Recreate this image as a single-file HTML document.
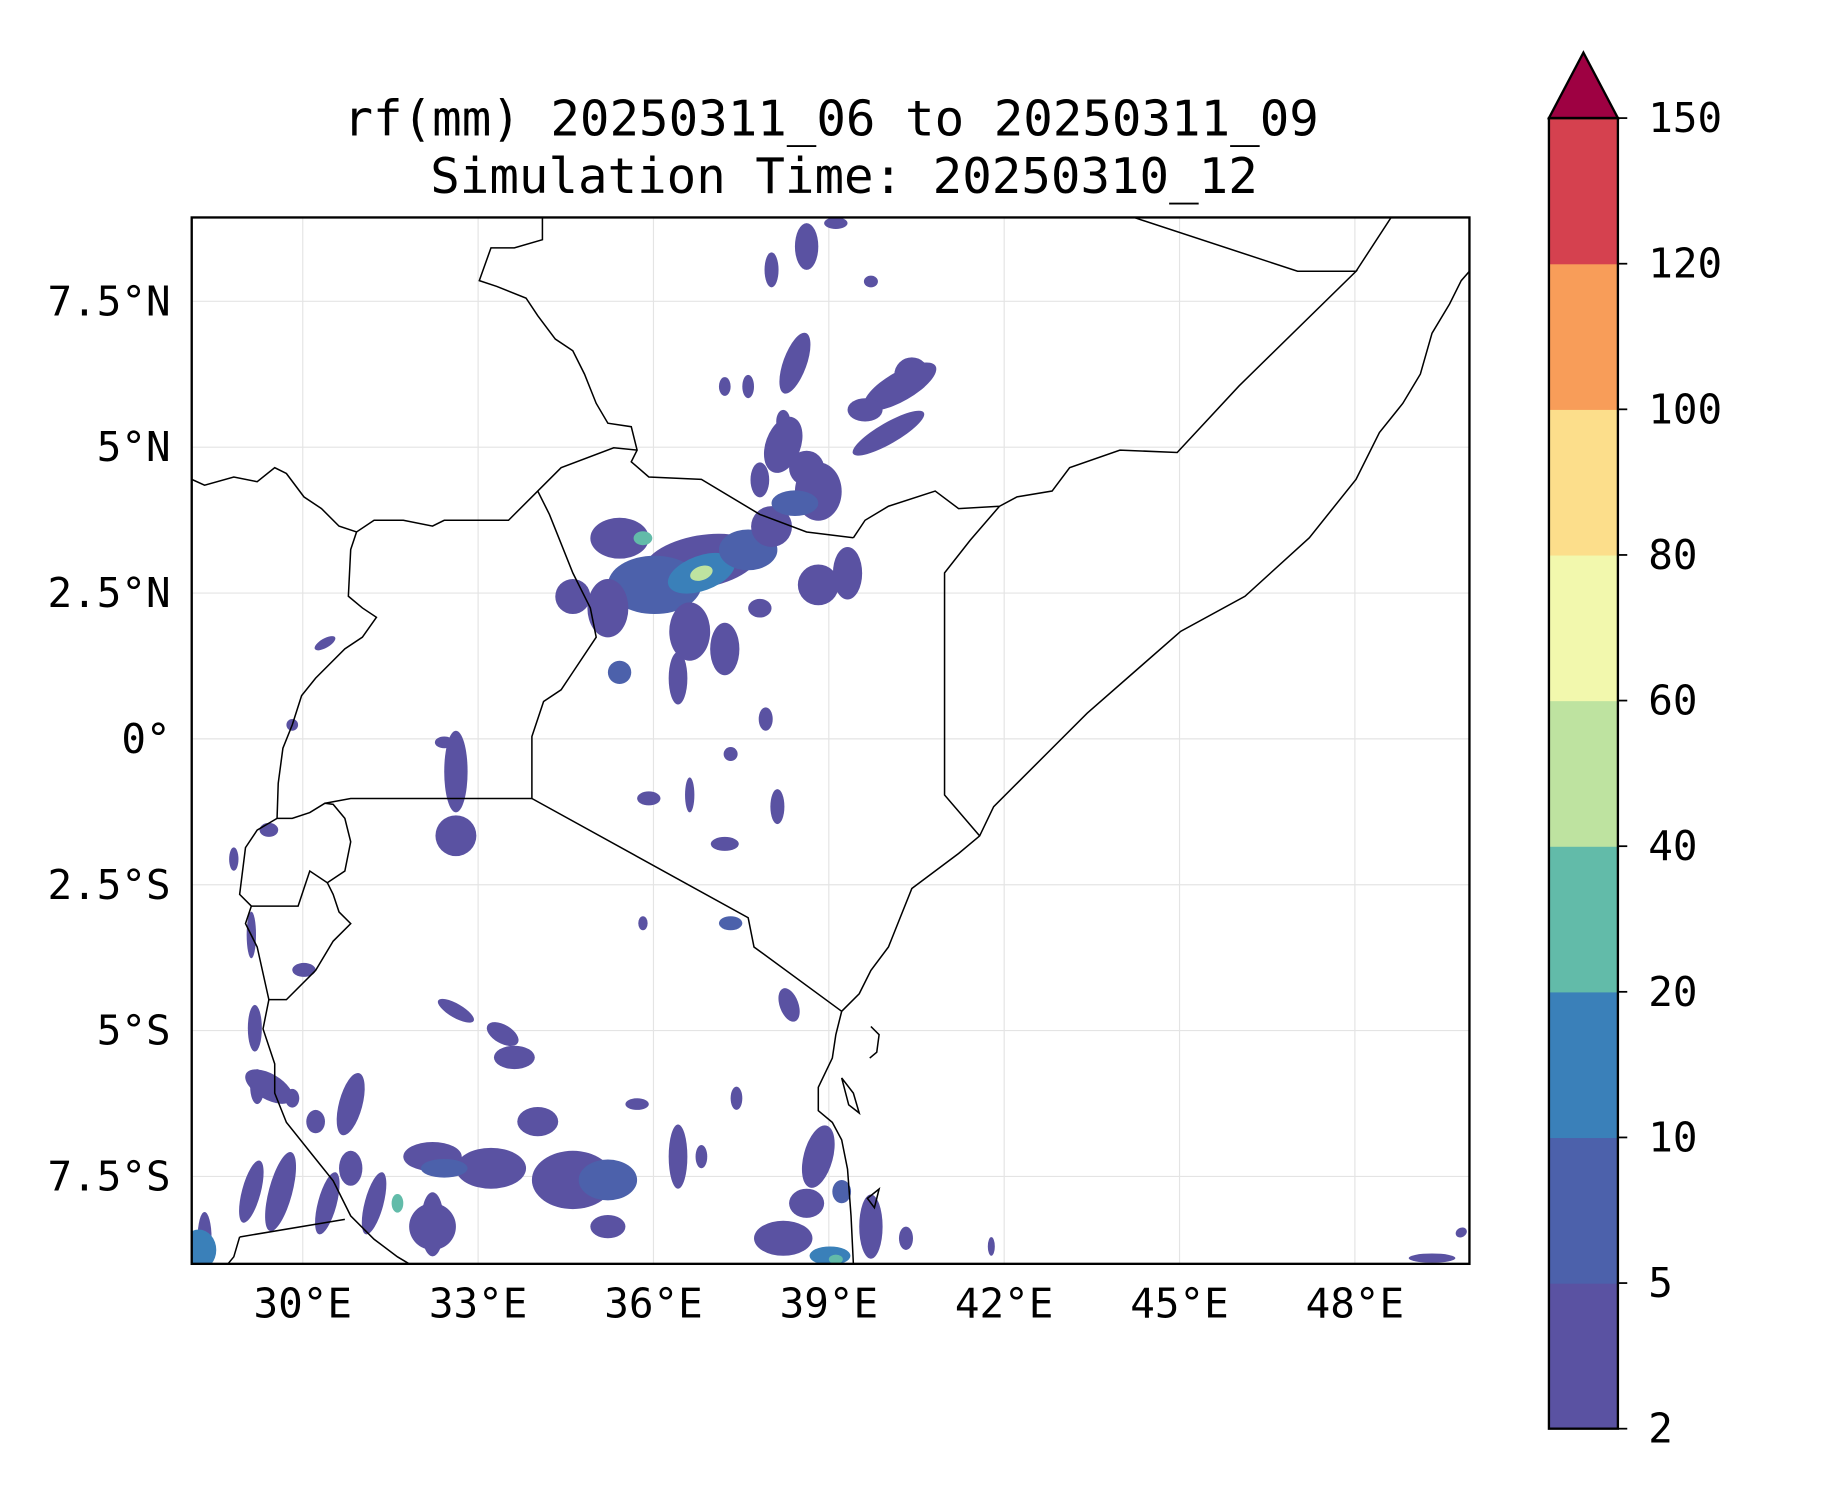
<!DOCTYPE html>
<html><head><meta charset="utf-8"><style>
html,body{margin:0;padding:0;background:#fff;}
svg{display:block;}
text{font-family:"DejaVu Sans Mono","Liberation Mono",monospace;fill:#000;}
</style></head><body>
<svg id="fig" width="1833" height="1500" viewBox="0 0 1568 1283" preserveAspectRatio="none" xmlns="http://www.w3.org/2000/svg">
<rect width="1568" height="1283" fill="#fff"/>
<text x="711" y="116" font-size="42" text-anchor="middle">rf(mm) 20250311_06 to 20250311_09</text>
<text x="722" y="165" font-size="42" text-anchor="middle">Simulation Time: 20250310_12</text>
<defs><clipPath id="mapclip"><rect x="164" y="186" width="1093" height="895"/></clipPath></defs>
<g id="grid"></g>
<g id="rain" clip-path="url(#mapclip)"></g>
<g clip-path="url(#mapclip)" fill="none" stroke="#000" stroke-width="1.3">
<path d="M464,186 L464,205 L440,212 L420,212 L410,240 L425,245 L450,255 L460,270 L475,290 L490,300 L500,320 L510,345 L520,362 L540,365 L545,385 L540,395 L555,408 L600,410 L650,440 L690,455 L730,460"/>
<path d="M730,460 L740,445 L760,433 L800,420 L820,435 L855,433 L870,425 L900,420 L915,400 L958,385 L1007,387 L1060,330 L1160,232 L1110,232 L970,186"/>
<path d="M1160,232 L1190,186"/>
<path d="M855,433 L830,462 L808,490 L808,680 L838,715"/>
<path d="M164,410 L175,415 L200,408 L220,412 L235,400 L245,405 L260,425 L275,435 L290,450 L305,455 L320,445 L345,445 L370,450 L380,445 L435,445 L460,420 L480,400 L525,383 L545,385"/>
<path d="M460,420 L470,440 L478,460 L490,490 L505,520 L510,545 L490,575 L480,590 L465,600 L455,630 L455,683"/>
<path d="M455,683 L300,683 L278,687"/>
<path d="M455,683 L640,785 L645,810 L720,865"/>
<path d="M305,455 L300,470 L298,510 L310,520 L322,528 L310,545 L295,555 L270,580 L258,595 L250,620 L242,640 L238,670 L237,700"/>
<path d="M237,700 L220,710 L210,725 L205,765 L215,775 L240,775 L255,775 L260,760 L265,745 L280,755 L295,745 L300,720 L295,700 L285,688 L278,687 L265,695 L250,700 L237,700"/>
<path d="M215,775 L210,790 L220,810 L230,855 L245,855 L270,830 L285,805 L300,790 L290,780 L285,765 L280,755"/>
<path d="M230,855 L225,880 L235,910 L235,935 L245,960 L265,985 L285,1010 L300,1040 L320,1060 L340,1075 L350,1081"/>
<path d="M205,1058 L295,1043"/>
<path d="M205,1058 L200,1075 L195,1081"/>
<path d="M1257,232 L1250,240 L1240,260 L1225,285 L1215,320 L1200,345 L1180,370 L1160,410 L1120,460 L1065,510 L1010,540 L970,575 L930,610 L900,640 L870,670 L850,690 L838,715 L820,730 L800,745 L780,760 L770,785 L760,810 L745,830 L735,850 L720,865 L715,885 L712,905 L700,930 L700,950 L712,960 L720,975 L725,1000 L728,1040 L730,1081"/>
<path d="M745,878 L752,885 L750,900 L744,905"/>
<path d="M720,922 L730,935 L735,952 L726,945 Z"/>
<path d="M742,1025 L752,1017 L748,1033 Z"/>
</g>
<rect x="164" y="186" width="1093" height="895" fill="none" stroke="#000" stroke-width="2"/>
<g id="xt"></g>
<g id="yt"></g>
<g id="cbar"></g>
</svg>
<script>
const NS='http://www.w3.org/2000/svg';
// Map axis data
const lonTicks=[30,33,36,39,42,45,48];
const lonLabels=['30°E','33°E','36°E','39°E','42°E','45°E','48°E'];
const latTicks=[7.5,5,2.5,0,-2.5,-5,-7.5];
const latLabels=['7.5°N','5°N','2.5°N','0°','2.5°S','5°S','7.5°S'];
// Colorbar data
const levels=[2,5,10,20,40,60,80,100,120,150];
const levelColors=['#5a52a2','#4c61ab','#3a80b9','#62bba9','#bee3a0','#f2f8ad','#fcde8b','#f89d59','#d5414f'];
const extendColor='#9e0142';
// Rain cells: lon, lat, radius-lon(deg), radius-lat(deg), level index, rotation(deg)
const cellLon=[35.42,36.82,36.02,36.82,36.82,37.62,35.22,34.62,36.62,37.22,36.42,35.42,38.02,38.82,38.42,38.82,39.32,35.82,37.82,38.22,38.62,38.42,38.02,40.22,40.02,40.42,39.62,37.62,38.62,39.72,37.22,39.12,37.82,38.22,32.62,32.62,32.42,30.38,29.82,37.92,37.32,35.92,38.12,37.22,36.62,37.32,29.12,29.18,30.02,29.42,28.82,35.82,38.32,29.42,33.42,32.62,33.62,30.82,29.22,29.82,30.22,32.22,33.22,32.42,34.62,35.22,34.02,35.22,32.22,32.22,31.62,31.22,30.42,29.62,29.12,28.32,28.22,30.82,36.42,36.82,35.72,37.42,38.82,38.62,38.22,39.02,39.12,39.72,39.22,40.32,49.82,49.32,41.78,34.78];
const cellLat=[3.44,3.04,2.64,2.84,2.84,3.24,2.24,2.44,1.84,1.54,1.04,1.14,3.64,4.24,4.04,2.64,2.84,3.44,2.24,5.04,4.64,6.44,8.04,6.04,5.24,6.24,5.64,6.04,8.44,7.84,6.04,8.84,4.44,5.44,-0.56,-1.66,-0.06,1.64,0.24,0.34,-0.26,-1.02,-1.16,-1.80,-0.96,-3.16,-3.36,-4.96,-3.96,-1.56,-2.06,-3.16,-4.56,-5.96,-5.06,-4.66,-5.46,-6.26,-5.96,-6.16,-6.56,-7.16,-7.36,-7.36,-7.56,-7.56,-6.56,-8.36,-8.36,-8.32,-7.96,-7.96,-7.96,-7.76,-7.76,-8.56,-8.76,-7.36,-7.16,-7.16,-6.26,-6.16,-7.16,-7.96,-8.56,-8.86,-8.92,-8.36,-7.76,-8.56,-8.46,-8.90,-8.70];
const cellRx=[0.5,1.0,0.8,0.6,0.2,0.5,0.35,0.3,0.35,0.25,0.16,0.2,0.35,0.4,0.4,0.35,0.25,0.16,0.2,0.3,0.3,0.2,0.12,0.7,0.7,0.3,0.3,0.1,0.2,0.12,0.1,0.2,0.16,0.12,0.2,0.35,0.16,0.2,0.1,0.12,0.12,0.2,0.12,0.24,0.08,0.2,0.08,0.12,0.2,0.16,0.08,0.08,0.16,0.45,0.3,0.35,0.35,0.2,0.12,0.12,0.16,0.5,0.6,0.4,0.7,0.5,0.35,0.3,0.4,0.2,0.1,0.16,0.16,0.2,0.16,0.12,0.3,0.2,0.16,0.1,0.2,0.1,0.25,0.3,0.5,0.35,0.12,0.2,0.16,0.12,0.1,0.4,0.06,0.3];
const cellRy=[0.35,0.45,0.5,0.3,0.12,0.35,0.5,0.3,0.5,0.45,0.45,0.2,0.35,0.5,0.22,0.35,0.45,0.12,0.16,0.5,0.3,0.55,0.3,0.25,0.18,0.3,0.2,0.2,0.4,0.1,0.16,0.1,0.3,0.2,0.7,0.35,0.1,0.08,0.1,0.2,0.12,0.12,0.3,0.12,0.3,0.12,0.4,0.4,0.12,0.12,0.2,0.12,0.3,0.22,0.16,0.12,0.2,0.55,0.3,0.16,0.2,0.25,0.35,0.16,0.5,0.35,0.25,0.2,0.4,0.55,0.16,0.55,0.55,0.7,0.55,0.45,0.35,0.3,0.55,0.2,0.1,0.2,0.55,0.25,0.3,0.16,0.08,0.55,0.2,0.2,0.08,0.08,0.16,0.3];
const cellLvl=[0,0,1,2,4,1,0,0,0,0,0,1,0,0,1,0,0,3,0,0,0,0,0,0,0,0,0,0,0,0,0,0,0,0,0,0,0,0,0,0,0,0,0,0,0,1,0,0,0,0,0,0,0,0,0,0,0,0,0,0,0,0,0,1,0,1,0,0,0,0,3,0,0,0,0,0,2,0,0,0,0,0,0,0,0,2,3,0,1,0,0,0,0,0];
const cellRot=[0,-10,0,-20,-20,0,0,0,0,0,0,0,0,0,0,0,0,0,0,20,0,20,0,-30,-30,0,0,0,0,0,0,0,0,0,0,0,0,-30,0,0,0,0,0,0,0,0,0,0,0,0,0,0,-20,30,30,30,0,15,0,0,0,0,0,0,0,0,0,0,0,0,0,15,15,15,15,0,0,0,0,0,0,0,15,0,0,0,0,0,0,0,-30,0,0,0];

const X=lon=>259+(lon-30)*50;
const Y=lat=>632-lat*49.9;
function mk(tag,attrs,parent){const e=document.createElementNS(NS,tag);for(const k in attrs)e.setAttribute(k,attrs[k]);parent.appendChild(e);return e;}

const grid=document.getElementById('grid');
lonTicks.forEach(v=>{
  const l=mk('line',{x1:X(v),x2:X(v),y1:186,y2:1081,stroke:'#e4e4e4','stroke-width':1},grid);
  
  
});
latTicks.forEach(v=>{
  const l=mk('line',{x1:164,x2:1257,y1:Y(v),y2:Y(v),stroke:'#e4e4e4','stroke-width':1},grid);
  
  
});

const rain=document.getElementById('rain');
for(let i=0;i<cellLon.length;i++){
  const cx=X(cellLon[i]),cy=Y(cellLat[i]);
  const e=mk('ellipse',{cx:cx,cy:cy,rx:cellRx[i]*50,ry:cellRy[i]*49.9,fill:levelColors[cellLvl[i]],transform:'rotate('+cellRot[i]+' '+cx+' '+cy+')'},rain);
  
  
}

const xt=document.getElementById('xt');
lonTicks.forEach((v,i)=>{
  const t=mk('text',{x:X(v),y:1127,'font-size':35,'text-anchor':'middle'},xt);
  t.textContent=lonLabels[i];
  
  
});
const yt=document.getElementById('yt');
latTicks.forEach((v,i)=>{
  const t=mk('text',{x:146,y:Y(v)+12,'font-size':35,'text-anchor':'end'},yt);
  t.textContent=latLabels[i];
  
  
});

// colorbar
const cb=document.getElementById('cbar');
const cbX=1325,cbW=59,cbTop=101,cbBot=1222;
const step=(cbBot-cbTop)/(levels.length-1);
const CY=i=>cbBot-i*step;
levelColors.forEach((c,i)=>{
  const r=mk('rect',{x:cbX,y:CY(i+1),width:cbW,height:step+0.5,fill:c},cb);
  
  
});
const tri=mk('polygon',{points:cbX+','+cbTop+' '+(cbX+cbW/2)+',45 '+(cbX+cbW)+','+cbTop,fill:extendColor,stroke:'#000','stroke-width':2},cb);


const fr=mk('rect',{x:cbX,y:cbTop,width:cbW,height:cbBot-cbTop,fill:'none',stroke:'#000','stroke-width':2},cb);


levels.forEach((v,i)=>{
  const tk=mk('line',{x1:cbX+cbW,x2:cbX+cbW+8,y1:CY(i),y2:CY(i),stroke:'#000','stroke-width':1.5},cb);
  
  
  const t=mk('text',{x:1410,y:CY(i)+12,'font-size':35},cb);
  t.textContent=String(v);
  
  
});
</script>
</body></html>
